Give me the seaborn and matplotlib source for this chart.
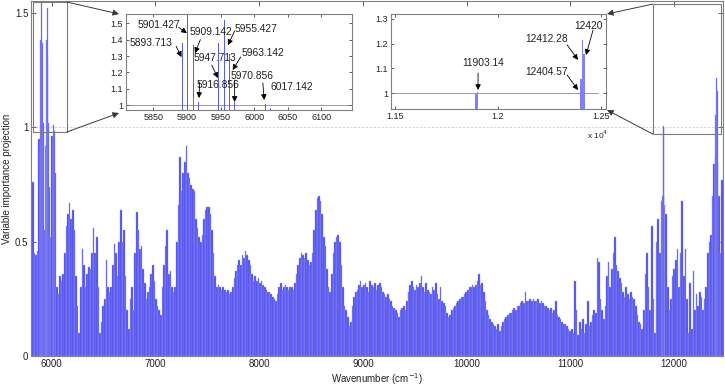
import numpy as np
import pandas as pd
import matplotlib
matplotlib.use("Agg")
import matplotlib.pyplot as plt
import seaborn as sns
from matplotlib.patches import Rectangle, ConnectionPatch

# ---------------- data ----------------
WN_START = 5801.145          # first sampled wavenumber (cm-1)
WN_STEP = 15.428             # sampling step used here (cm-1)
vip = [
    0.56, 0.76, 0.45, 0.44, 0.46, 0.95, 0.90, 0.96, 0.55, 0.92,
    0.93, 0.74, 0.52, 0.96, 0.95, 0.80, 0.30, 0.27, 0.35, 0.33,
    0.36, 0.45, 0.57, 0.62, 0.67, 0.60, 0.64, 0.55, 0.35, 0.22,
    0.10, 0.30, 0.47, 0.40, 0.30, 0.36, 0.39, 0.38, 0.45, 0.56,
    0.45, 0.52, 0.30, 0.10, 0.15, 0.22, 0.25, 0.42, 0.30, 0.28,
    0.30, 0.40, 0.49, 0.45, 0.35, 0.50, 0.64, 0.50, 0.55, 0.35,
    0.20, 0.12, 0.25, 0.30, 0.20, 0.45, 0.63, 0.55, 0.47, 0.48,
    0.38, 0.32, 0.25, 0.28, 0.30, 0.36, 0.40, 0.33, 0.25, 0.22,
    0.20, 0.18, 0.30, 0.40, 0.48, 0.55, 0.36, 0.37, 0.30, 0.28,
    0.30, 0.50, 0.66, 0.87, 0.72, 0.80, 0.85, 0.92, 0.80, 0.78,
    0.75, 0.73, 0.72, 0.60, 0.56, 0.52, 0.50, 0.53, 0.60, 0.64,
    0.65, 0.65, 0.62, 0.55, 0.45, 0.35, 0.30, 0.31, 0.30, 0.29,
    0.30, 0.29, 0.28, 0.29, 0.27, 0.28, 0.30, 0.34, 0.37, 0.40,
    0.42, 0.40, 0.44, 0.43, 0.46, 0.44, 0.42, 0.40, 0.36, 0.33,
    0.35, 0.33, 0.34, 0.32, 0.33, 0.31, 0.30, 0.29, 0.28, 0.28,
    0.27, 0.26, 0.25, 0.24, 0.27, 0.30, 0.32, 0.29, 0.30, 0.31,
    0.30, 0.29, 0.30, 0.30, 0.29, 0.32, 0.36, 0.40, 0.43, 0.45,
    0.44, 0.43, 0.45, 0.42, 0.40, 0.41, 0.45, 0.55, 0.64, 0.69,
    0.70, 0.68, 0.62, 0.52, 0.48, 0.38, 0.30, 0.28, 0.36, 0.45,
    0.50, 0.52, 0.53, 0.50, 0.40, 0.30, 0.22, 0.20, 0.17, 0.13,
    0.15, 0.22, 0.26, 0.28, 0.29, 0.31, 0.33, 0.30, 0.31, 0.32,
    0.30, 0.28, 0.33, 0.31, 0.30, 0.32, 0.29, 0.31, 0.32, 0.30,
    0.28, 0.27, 0.26, 0.27, 0.25, 0.24, 0.22, 0.21, 0.20, 0.19,
    0.17, 0.20, 0.21, 0.22, 0.20, 0.24, 0.28, 0.31, 0.33, 0.30,
    0.29, 0.31, 0.30, 0.32, 0.35, 0.30, 0.28, 0.32, 0.29, 0.28,
    0.27, 0.30, 0.29, 0.32, 0.27, 0.25, 0.30, 0.24, 0.23, 0.22,
    0.19, 0.17, 0.18, 0.20, 0.21, 0.22, 0.23, 0.24, 0.25, 0.26,
    0.26, 0.27, 0.28, 0.29, 0.30, 0.30, 0.31, 0.30, 0.31, 0.33,
    0.36, 0.31, 0.32, 0.28, 0.24, 0.20, 0.18, 0.16, 0.15, 0.14,
    0.13, 0.12, 0.14, 0.11, 0.13, 0.15, 0.16, 0.17, 0.18, 0.19,
    0.19, 0.20, 0.21, 0.20, 0.22, 0.22, 0.23, 0.24, 0.23, 0.28,
    0.24, 0.24, 0.25, 0.24, 0.25, 0.24, 0.24, 0.25, 0.23, 0.24,
    0.23, 0.22, 0.22, 0.21, 0.20, 0.21, 0.19, 0.20, 0.24, 0.18,
    0.17, 0.16, 0.15, 0.14, 0.14, 0.13, 0.12, 0.11, 0.12, 0.10,
    0.33, 0.20, 0.09, 0.15, 0.12, 0.16, 0.10, 0.14, 0.24, 0.13,
    0.15, 0.18, 0.20, 0.19, 0.43, 0.41, 0.25, 0.20, 0.16, 0.22,
    0.35, 0.41, 0.30, 0.38, 0.45, 0.52, 0.40, 0.37, 0.34, 0.32,
    0.28, 0.26, 0.30, 0.27, 0.25, 0.28, 0.26, 0.25, 0.22, 0.18,
    0.15, 0.14, 0.12, 0.20, 0.36, 0.45, 0.30, 0.20, 0.57, 0.25,
    0.10, 0.50, 0.60, 0.45, 0.68, 0.70, 0.66, 0.62, 0.30, 0.20,
    0.25, 0.35, 0.38, 0.42, 0.47, 0.30, 0.45, 0.68, 0.35, 0.47,
    0.25, 0.10, 0.32, 0.12, 0.37, 0.20, 0.27, 0.22, 0.28, 0.26,
    0.20, 0.25, 0.30, 0.45, 0.50, 0.53, 0.70, 0.84, 0.88, 0.85,
    0.70, 0.45, 0.77,
]
wavenumber = WN_START + WN_STEP * np.arange(len(vip))

# selected variables (VIP > 1) shown in the zoomed insets
spike_wn = [5893.713, 5901.427, 5909.142, 5916.856, 5947.713, 5955.427,
            5963.142, 5970.856, 6017.142, 6024.856,
            11895.43, 11903.14, 12404.57, 12412.28, 12420.0]
spike_vip = [1.38, 1.60, 1.37, 1.02, 1.38, 1.52,
             1.31, 1.02, 1.01, 0.985,
             0.995, 1.005, 1.055, 1.215, 1.16]

# annotations: label, text position, arrow start, arrow tip (inset data coords)
ann1_labels = ["5901.427", "5893.713", "5909.142", "5955.427", "5947.713",
               "5963.142", "5916.856", "5970.856", "6017.142"]
ann1_text = [(5858, 1.489), (5847, 1.38), (5936, 1.447), (6003, 1.465), (5942, 1.288),
             (6013, 1.318), (5946, 1.123), (5997, 1.178), (6056, 1.111)]
ann1_from = [(5888, 1.475), (5884, 1.36), (5920, 1.40), (5971, 1.453), (5937, 1.245),
             (5980, 1.294), (5919, 1.142), (5971, 1.154), (6013, 1.136)]
ann1_to = [(5900, 1.44), (5892, 1.294), (5912, 1.318), (5961, 1.367), (5946, 1.166),
           (5968, 1.215), (5918, 1.044), (5971, 1.02), (6015, 1.032)]

ann2_labels = ["11903.14", "12412.28", "12420", "12404.57"]
ann2_text = [(11929, 1.122), (12240, 1.219), (12439, 1.272), (12240, 1.085)]
ann2_from = [(11905, 1.081), (12337, 1.195), (12463, 1.255), (12337, 1.073)]
ann2_to = [(11905, 1.012), (12390, 1.134), (12429, 1.154), (12390, 1.012)]

main_xticks = [6000, 7000, 8000, 9000, 10000, 11000, 12000]
main_yticks = [0, 0.5, 1, 1.5]
main_yticklabels = ["0", "0.5", "1", "1.5"]
in1_xticks = [5850, 5900, 5950, 6000, 6050, 6100]
in1_yticks = [1, 1.1, 1.2, 1.3, 1.4, 1.5]
in1_yticklabels = ["1", "1.1", "1.2", "1.3", "1.4", "1.5"]
in2_xticks = [11500, 12000, 12500]
in2_xticklabels = ["1.15", "1.2", "1.25"]
in2_yticks = [1, 1.1, 1.2, 1.3]
in2_yticklabels = ["1", "1.1", "1.2", "1.3"]

# ---------------- style ----------------
sns.set_theme(style="ticks")
plt.rcParams["font.family"] = ["Liberation Sans", "DejaVu Sans"]
plt.rcParams.update({
    "xtick.direction": "in", "ytick.direction": "in",
    "xtick.top": True, "ytick.right": True,
    "axes.edgecolor": "#808080", "axes.linewidth": 0.8,
    "xtick.color": "#606060", "ytick.color": "#606060",
    "xtick.labelcolor": "#222222", "ytick.labelcolor": "#222222",
    "xtick.major.width": 0.7, "ytick.major.width": 0.7,
})
BLUE = "#4848ee"
EDGE = "#9c9cf6"
W, H = 725, 386
fig = plt.figure(figsize=(W / 100, H / 100), dpi=100)

def fx(px):
    return px / W

def fy(py):
    return 1 - py / H

# ---------------- main axes ----------------
ax = fig.add_axes([fx(31), fy(356), fx(723.3) - fx(31), fy(1) - fy(356)])
df = pd.DataFrame({"wn": wavenumber, "vip": vip})
sns.barplot(data=df, x="wn", y="vip", native_scale=True, width=1.0, color=BLUE,
            saturation=1, errorbar=None, linewidth=0.3, edgecolor=EDGE, ax=ax)
dfs = pd.DataFrame({"wn": spike_wn, "vip": spike_vip})
sns.barplot(data=dfs, x="wn", y="vip", native_scale=True, width=1.4, color=BLUE,
            saturation=1, errorbar=None, linewidth=0.3, edgecolor=EDGE, ax=ax)
ax.axhline(1, color="#ffc4c4", lw=0.8, ls=(0, (2, 1.5)), zorder=0.5)
ax.set_xlim(5800, 12476)
ax.set_ylim(0, 1.5525)
ax.set_xticks(main_xticks)
ax.set_xticklabels([str(t) for t in main_xticks])
ax.set_yticks(main_yticks)
ax.set_yticklabels(main_yticklabels)
ax.tick_params(labelsize=7, length=3.5, pad=2)
ax.set_xlabel("Wavenumber (cm$^{-1}$)", fontsize=7, color="#222222")
ax.set_ylabel("Variable importance projection", fontsize=7, color="#222222")
ax.xaxis.set_label_coords(0.5, -0.042)
ax.yaxis.set_label_coords(-0.0275, 0.5)

# zoom rectangles
r1 = (5819, 0.98, 6147 - 5819, 1.548 - 0.98)
r2 = (11795, 0.971, 12451 - 11795, 1.539 - 0.971)
for (x0, y0, w, h) in (r1, r2):
    ax.add_patch(Rectangle((x0, y0), w, h, fill=False, ec="#7a7a7a", lw=0.8,
                           zorder=5, clip_on=False))

# connector arrows
cons = [((6147, 1.548), (119, 14)), ((6147, 0.98), (119, 113)),
        ((11795, 1.539), (607, 14)), ((11795, 0.971), (607, 110))]
for (xa, (pxb, pyb)) in cons:
    c = ConnectionPatch(xyA=xa, coordsA=ax.transData,
                        xyB=(fx(pxb), fy(pyb)), coordsB=fig.transFigure,
                        arrowstyle="-|>", color="#3a3a3a", lw=0.7,
                        mutation_scale=9, shrinkA=0, shrinkB=0)
    fig.add_artist(c)

# ---------------- inset 1 ----------------
a1 = fig.add_axes([fx(125.7), fy(110), fx(352.3) - fx(125.7), fy(14.3) - fy(110)])
m1 = (dfs["wn"] > 5800) & (dfs["wn"] < 6150)
sns.barplot(data=dfs[m1], x="wn", y="vip", native_scale=True, width=0.2,
            color="#5a5af5", saturation=1, errorbar=None, linewidth=0, ax=a1)
a1.axhline(1, color="#ff7070", lw=0.7, zorder=0.5)
a1.set_xlim(5809, 6146)
a1.set_ylim(0.971, 1.555)
a1.set_xticks(in1_xticks)
a1.set_xticklabels([str(t) for t in in1_xticks])
a1.set_yticks(in1_yticks)
a1.set_yticklabels(in1_yticklabels)
a1.tick_params(labelsize=6.5, length=2.5, pad=2)
a1.set_xlabel("")
a1.set_ylabel("")
for lab, t, s, e in zip(ann1_labels, ann1_text, ann1_from, ann1_to):
    a1.text(t[0], t[1], lab, fontsize=7.4, ha="center", va="center", color="#222222")
    a1.annotate("", xy=e, xytext=s,
                arrowprops=dict(arrowstyle="-|>", color="black", lw=0.6,
                                mutation_scale=8, shrinkA=0, shrinkB=0))

# ---------------- inset 2 ----------------
a2 = fig.add_axes([fx(390.7), fy(109.3), fx(606) - fx(390.7), fy(14) - fy(109.3)])
m2 = dfs["wn"] > 11000
sns.barplot(data=dfs[m2], x="wn", y="vip", native_scale=True, width=0.9,
            color="#8080f8", saturation=1, errorbar=None, linewidth=0, ax=a2)
a2.hlines(1, 11481, 12486, color="#ff7070", lw=0.7, zorder=0.5)
a2.set_xlim(11481, 12526)
a2.set_ylim(0.934, 1.32)
a2.set_xticks(in2_xticks)
a2.set_xticklabels(in2_xticklabels)
a2.set_yticks(in2_yticks)
a2.set_yticklabels(in2_yticklabels)
a2.tick_params(labelsize=6.5, length=2.5, pad=2)
a2.set_xlabel("")
a2.set_ylabel("")
for lab, t, s, e in zip(ann2_labels, ann2_text, ann2_from, ann2_to):
    a2.text(t[0], t[1], lab, fontsize=7.4, ha="center", va="center", color="#222222")
    a2.annotate("", xy=e, xytext=s,
                arrowprops=dict(arrowstyle="-|>", color="black", lw=0.6,
                                mutation_scale=8, shrinkA=0, shrinkB=0))
fig.text(fx(598), fy(135), "x 10$^4$", fontsize=6, ha="center", va="center",
         color="#222222")

fig.savefig("out.png", dpi=100)
